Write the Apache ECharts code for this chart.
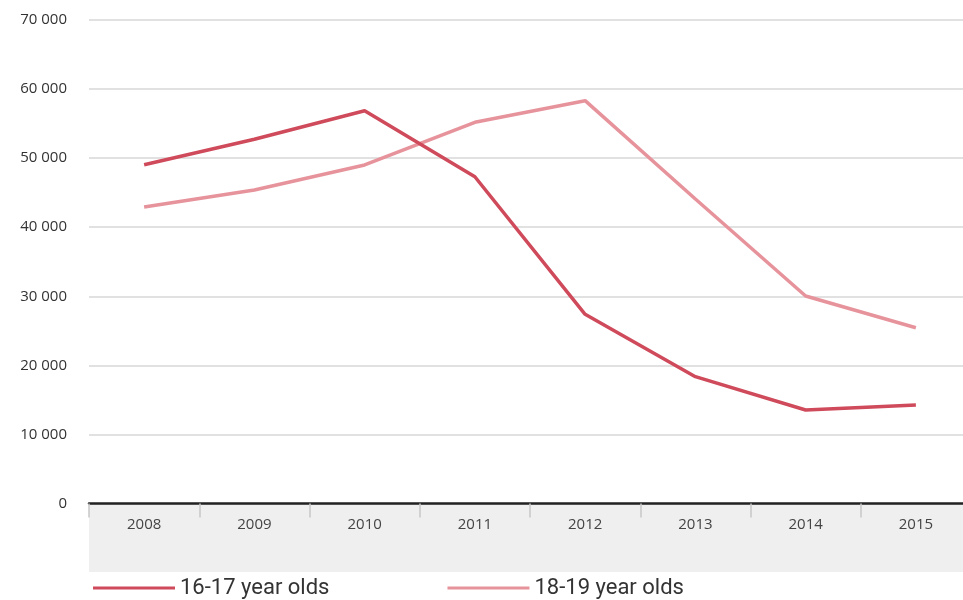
<!DOCTYPE html>
<html>
<head>
<meta charset="utf-8">
<script src="https://cdn.jsdelivr.net/npm/echarts@6/dist/echarts.min.js"></script>
<style>
  html, body { margin: 0; padding: 0; background: #fff; }
  #chart { width: 963px; height: 600px; }
</style>
</head>
<body>
<div id="chart"></div>
<script>
// Years on the category axis
const years = ['2008', '2009', '2010', '2011', '2012', '2013', '2014', '2015'];

// Number of people per age group
const age1617 = [49050, 52730, 56870, 47310, 27390, 18360, 13540, 14260];
const age1819 = [42930, 45390, 49010, 55190, 58320, 44090, 30040, 25450];

const seriesNames = ['16-17 year olds', '18-19 year olds'];
const seriesColors = ['#cf4a5a', '#e7939c'];

// Value axis range
const yMin = 0, yMax = 70000, yStep = 10000;

// Plot layout
const plotLeft = 89, plotTop = 20, plotBottomY = 503.5, plotWidth = 882;
const bandBottomY = 572;

function spaced(v) {
  return String(v).replace(/\B(?=(\d{3})+(?!\d))/g, ' ');
}

const chart = echarts.init(document.getElementById('chart'), null, { renderer: 'canvas' });

chart.setOption({
  animation: false,
  backgroundColor: '#ffffff',
  grid: {
    left: plotLeft,
    top: plotTop,
    width: plotWidth,
    bottom: 600 - plotBottomY,
    containLabel: false,
    outerBoundsMode: 'none'
  },
  graphic: [{
    type: 'rect',
    z: -10,
    shape: { x: plotLeft, y: plotBottomY, width: 963 - plotLeft, height: bandBottomY - plotBottomY },
    style: { fill: '#efefef' }
  }],
  legend: {
    left: plotLeft - 1,
    top: 572,
    itemWidth: 82,
    itemHeight: 3,
    itemGap: 118,
    icon: 'rect',
    textStyle: { fontFamily: 'Roboto', fontSize: 22, color: '#333', padding: [0, 0, 0, 0] },
    data: seriesNames
  },
  xAxis: {
    type: 'category',
    data: years,
    boundaryGap: true,
    axisLine: { show: true, lineStyle: { color: '#222', width: 2.5 } },
    axisTick: { show: true, alignWithLabel: false, length: 14, lineStyle: { color: '#c8c8c8', width: 1.5 } },
    axisLabel: { margin: 14, fontFamily: 'Open Sans', fontSize: 15, color: '#444' },
    splitLine: { show: false }
  },
  yAxis: {
    type: 'value',
    min: yMin,
    max: yMax,
    interval: yStep,
    axisLine: { show: false },
    axisTick: { show: false },
    axisLabel: {
      margin: 22,
      fontFamily: 'Open Sans',
      fontSize: 15,
      color: '#333',
      formatter: spaced
    },
    splitLine: { show: true, lineStyle: { color: '#e1e1e1', width: 2 } }
  },
  series: [
    {
      name: seriesNames[0],
      type: 'line',
      data: age1617,
      symbol: 'none',
      color: seriesColors[0],
      lineStyle: { width: 3.5, color: seriesColors[0] },
      z: 3
    },
    {
      name: seriesNames[1],
      type: 'line',
      data: age1819,
      symbol: 'none',
      color: seriesColors[1],
      lineStyle: { width: 3.5, color: seriesColors[1] },
      z: 2
    }
  ]
});
</script>
</body>
</html>
